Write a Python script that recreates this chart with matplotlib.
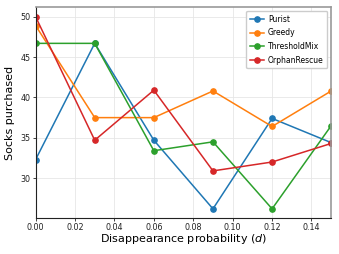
import matplotlib
matplotlib.use("Agg")
import matplotlib.pyplot as plt

d = [0.00, 0.03, 0.06, 0.09, 0.12, 0.15]
purist = [32.3, 46.7, 34.7, 26.2, 37.4, 34.4]
greedy = [48.9, 37.5, 37.5, 40.8, 36.4, 40.8]
threshold_mix = [46.7, 46.7, 33.4, 34.5, 26.2, 36.5]
orphan_rescue = [50.0, 34.7, 40.9, 30.9, 32.0, 34.3]

series = [
    ("Purist", purist, "#1f77b4"),
    ("Greedy", greedy, "#ff7f0e"),
    ("ThresholdMix", threshold_mix, "#2ca02c"),
    ("OrphanRescue", orphan_rescue, "#d62728"),
]

fig, ax = plt.subplots(figsize=(3.39, 2.54), dpi=100)
for name, y, c in series:
    ax.plot(d, y, marker='o', markersize=3.8, linewidth=1.1, color=c, label=name)

ax.set_xlim(0, 0.15)
ax.set_yticks([30, 35, 40, 45, 50])
xt = [0.00, 0.02, 0.04, 0.06, 0.08, 0.10, 0.12, 0.14]
ax.set_xticks(xt)
ax.set_xticklabels([f"{v:.2f}" for v in xt])
ax.tick_params(labelsize=5.8, length=2, width=0.6, pad=1.5, colors='#222222')
ax.grid(True, color='#e6e6e6', linewidth=0.6)
ax.set_axisbelow(True)
ax.set_xlabel('Disappearance probability ($d$)', fontsize=8, labelpad=0)
ax.set_ylabel('Socks purchased', fontsize=8, labelpad=4)
for s in ['left', 'bottom']:
    ax.spines[s].set_color('#222222')
    ax.spines[s].set_linewidth(0.8)
for s in ['top', 'right']:
    ax.spines[s].set_color('#999999')
    ax.spines[s].set_linewidth(1.2)
ax.legend(loc='upper right', fontsize=5.5, handlelength=1.8, borderpad=0.5,
          labelspacing=0.6, handletextpad=0.5, framealpha=1.0)

fig.subplots_adjust(left=0.105, right=0.977, top=0.972, bottom=0.14)
fig.savefig('out.png', dpi=100)
